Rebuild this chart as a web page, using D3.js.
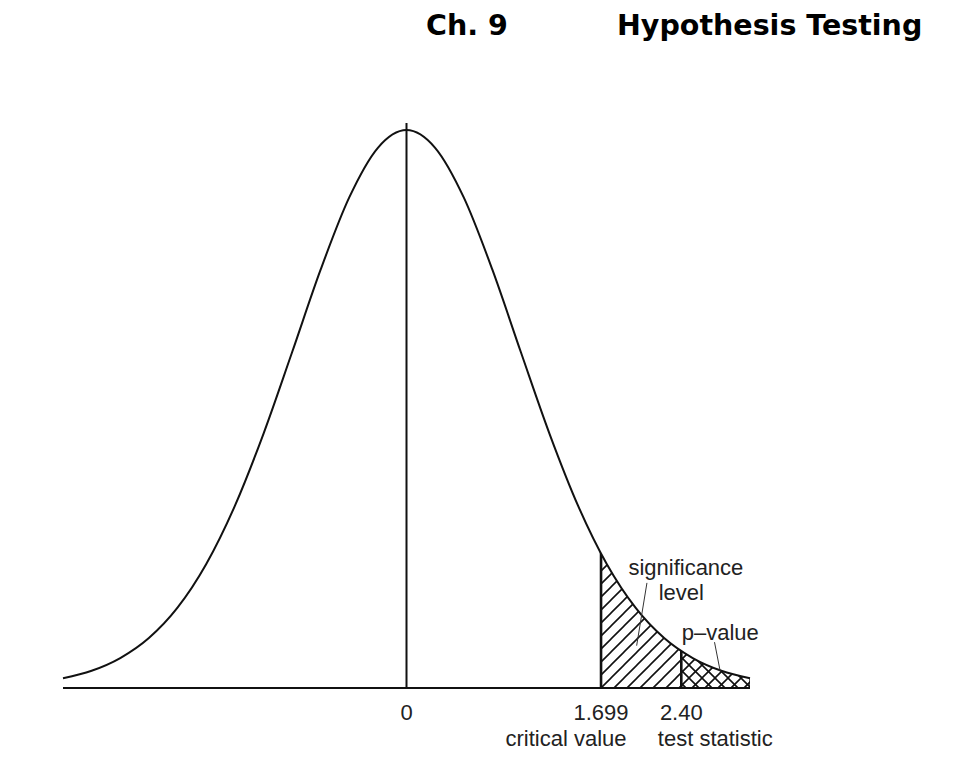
<!DOCTYPE html>
<html>
<head>
<meta charset="utf-8">
<script src="https://cdn.jsdelivr.net/npm/d3@7.9.0/dist/d3.min.js"></script>
<style>
  body { margin: 0; background: #fff; }
  svg { display: block; }
  .lbl { font-family: "Liberation Sans", Arial, sans-serif; font-size: 22px; fill: #222; }
  .title { font-family: "DejaVu Sans", Verdana, sans-serif; font-weight: bold; font-size: 28.5px; fill: #000; }
</style>
</head>
<body>
<div id="chart"></div>
<script>
// curve heights (t distribution, 29 df), symmetric about 0
const tValues = [-3, -2.75, -2.5, -2.25, -2, -1.75, -1.5, -1.25, -1, -0.75, -0.5, -0.25,
  0, 0.25, 0.5, 0.75, 1, 1.25, 1.5, 1.75, 2, 2.25, 2.5, 2.75, 3];
const density = [0.0069, 0.0122, 0.0212, 0.0354, 0.0569, 0.0877, 0.1289, 0.1800, 0.2378, 0.2965, 0.3477, 0.3829,
  0.3955, 0.3829, 0.3477, 0.2965, 0.2378, 0.1800, 0.1289, 0.0877, 0.0569, 0.0354, 0.0212, 0.0122, 0.0069];

const criticalValue = 1.699;
const testStatistic = 2.40;
const tickValues = [0, criticalValue, testStatistic];
const tickLabels = ['0', '1.699', '2.40'];
const tickNames = ['', 'critical value', 'test statistic'];

// annotation text and leader lines, in chart units
const notes = [
  { text: 'significance', t: 2.44, y: 0.0800 },
  { text: 'level', t: 2.40, y: 0.0624 },
  { text: 'p\u2013value', t: 2.74, y: 0.0340 },
];
const leaders = [
  [[2.10, 0.0745], [2.01, 0.0300]],
  [[2.69, 0.0325], [2.74, 0.0118]],
];

const width = 967;
const height = 782;
const margin = { left: 63, right: 217, top: 130, bottom: 94 };

const points = tValues.map((t, i) => ({ t, y: density[i] }));

const x = d3.scaleLinear().domain([-3, 3]).range([margin.left, width - margin.right]);
const y = d3.scaleLinear().domain([0, d3.max(density)]).range([height - margin.bottom, margin.top]);

const svg = d3.select('#chart').append('svg')
  .attr('width', width)
  .attr('height', height);

// title
svg.append('text').attr('class', 'title').attr('x', 426).attr('y', 35).text('Ch. 9');
svg.append('text').attr('class', 'title').attr('x', 617).attr('y', 35).text('Hypothesis Testing');

const defs = svg.append('defs');

// hatch patterns: "/" only, and "/" plus "\"
const s = 13;
const slash = `M0,${s} L${s},0 M-3,3 L3,-3 M${s - 3},${s + 3} L${s + 3},${s - 3}`;
const back = `M0,0 L${s},${s} M${s - 3},-3 L${s + 3},3 M-3,${s - 3} L3,${s + 3}`;

defs.append('pattern')
  .attr('id', 'hatch')
  .attr('patternUnits', 'userSpaceOnUse')
  .attr('x', 0).attr('y', 2)
  .attr('width', s).attr('height', s)
  .append('path').attr('d', slash)
  .attr('stroke', '#111').attr('stroke-width', 1.6);

const cross = defs.append('pattern')
  .attr('id', 'cross')
  .attr('patternUnits', 'userSpaceOnUse')
  .attr('x', 0).attr('y', 2)
  .attr('width', s).attr('height', s);
cross.append('path').attr('d', slash).attr('stroke', '#111').attr('stroke-width', 1.6);
cross.append('path').attr('d', back).attr('stroke', '#111').attr('stroke-width', 1.6);

const area = d3.area()
  .x(d => x(d.t))
  .y0(y(0))
  .y1(d => y(d.y))
  .curve(d3.curveMonotoneX);

const line = d3.line()
  .x(d => x(d.t))
  .y(d => y(d.y))
  .curve(d3.curveMonotoneX);

// clip to the area under the curve
defs.append('clipPath').attr('id', 'under')
  .append('path').attr('d', area(points));

const shade = svg.append('g').attr('clip-path', 'url(#under)');
shade.append('rect')
  .attr('x', x(criticalValue)).attr('y', 0)
  .attr('width', x(testStatistic) - x(criticalValue))
  .attr('height', y(0))
  .attr('fill', 'url(#hatch)');
shade.append('rect')
  .attr('x', x(testStatistic)).attr('y', 0)
  .attr('width', x(3) - x(testStatistic))
  .attr('height', y(0))
  .attr('fill', 'url(#cross)');

// vertical boundaries up to the curve
shade.selectAll('line.bound')
  .data([criticalValue, testStatistic, 3])
  .join('line')
  .attr('class', 'bound')
  .attr('x1', d => x(d)).attr('x2', d => x(d))
  .attr('y1', 0).attr('y2', y(0))
  .attr('stroke', '#111').attr('stroke-width', d => d === 3 ? 1.4 : 2.6);

// baseline
svg.append('line')
  .attr('x1', x(-3)).attr('x2', x(3))
  .attr('y1', y(0)).attr('y2', y(0))
  .attr('stroke', '#111').attr('stroke-width', 2);

// centre line
svg.append('line')
  .attr('x1', x(0)).attr('x2', x(0))
  .attr('y1', y(0)).attr('y2', margin.top - 7)
  .attr('stroke', '#111').attr('stroke-width', 2);

// curve
svg.append('path')
  .attr('d', line(points))
  .attr('fill', 'none')
  .attr('stroke', '#111')
  .attr('stroke-width', 2);

function label(px, py, text) {
  svg.append('text')
    .attr('class', 'lbl')
    .attr('text-anchor', 'middle')
    .attr('x', px).attr('y', py)
    .text(text);
}

tickValues.forEach((v, i) => {
  label(x(v), y(0) + 32, tickLabels[i]);
  if (tickNames[i]) label(x(v) + (i === 1 ? -35 : 34), y(0) + 58, tickNames[i]);
});

notes.forEach(n => label(x(n.t), y(n.y), n.text));

svg.selectAll('line.leader')
  .data(leaders)
  .join('line')
  .attr('class', 'leader')
  .attr('x1', d => x(d[0][0])).attr('y1', d => y(d[0][1]))
  .attr('x2', d => x(d[1][0])).attr('y2', d => y(d[1][1]))
  .attr('stroke', '#333').attr('stroke-width', 1);
</script>
</body>
</html>
